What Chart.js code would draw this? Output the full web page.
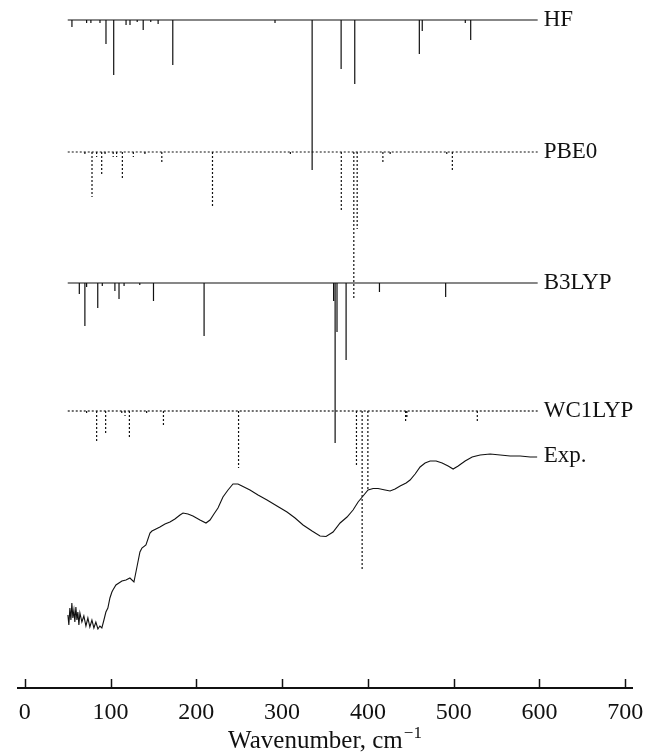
<!DOCTYPE html>
<html>
<head>
<meta charset="utf-8">
<script src="https://cdn.jsdelivr.net/npm/chart.js@4/dist/chart.umd.min.js"></script>
<style>
  html, body { margin: 0; padding: 0; background: #fff; }
  #c { display: block; }
</style>
</head>
<body>
<canvas id="c" width="654" height="756"></canvas>
<script>
// ---- data (wavenumber, cm^-1 ; stick depth in plot units) ----
const xTicks = [0, 100, 200, 300, 400, 500, 600, 700];

const hfFreq = [54.9, 72, 77, 87.6, 94.6, 103.6, 118, 122.6, 131, 138, 146.8, 155.4, 172.5, 291.7, 335, 368.8, 384.7, 460, 463.4, 513.6, 519.9];
const hfInt  = [7, 3, 3, 3, 24, 55, 5, 5, 2, 10, 2, 4, 45, 3, 150, 49, 64, 34, 11, 3, 20];

const pbe0Freq = [70, 78.3, 83.7, 89.6, 93.5, 103, 107, 113.7, 126.5, 140, 159.7, 218.8, 309.6, 369, 383.6, 387.5, 417.5, 426, 492, 498.5];
const pbe0Int  = [3, 45, 5, 24, 4, 5, 5, 27, 5, 3, 10, 55, 4, 59, 147, 77, 12, 2, 2, 20];

const b3lypFreq = [63.5, 70, 72, 85, 90.3, 105, 109.8, 115.7, 134, 150, 209, 360, 361.8, 364, 374.6, 413.5, 490.7];
const b3lypInt  = [11, 43, 4, 25, 3, 8, 16, 3, 2, 18, 53, 18, 160, 49, 77, 9, 14];

const wc1Freq = [72, 83.7, 94.2, 113, 116.8, 121.9, 142, 161.6, 249.2, 386.7, 393.3, 400, 444, 445.5, 527.6];
const wc1Int  = [2, 31, 23, 4, 5, 26, 3, 14, 57, 56, 160, 78, 12, 6, 12];

const expX = [50.2, 51.3, 52.5, 53.7, 54.8, 56.0, 57.2, 58.3, 59.5, 60.7, 61.8, 63.0, 64.2, 66.5, 68.8, 71.2, 73.5, 75.8, 78.2, 80.5, 82.8, 85.2, 87.5, 89.8, 92.2, 94.5, 96.8, 99.2, 101.5, 102.7, 106.2, 109.7, 113.2, 117.9, 122.5, 127.2, 130.7, 134.2, 136.5, 141.2, 145.9, 148.2, 152.9, 157.5, 163.4, 169.2, 175.0, 180.9, 184.4, 190.2, 196.0, 204.2, 211.2, 215.9, 220.5, 225.2, 231.0, 236.9, 242.7, 248.5, 253.2, 262.5, 271.9, 282.4, 294.0, 305.7, 315.1, 324.4, 334.9, 344.2, 351.2, 359.4, 367.6, 375.7, 382.7, 388.6, 394.4, 400.2, 406.1, 411.9, 420.1, 425.9, 431.7, 437.6, 444.6, 449.2, 455.1, 460.9, 466.7, 472.6, 479.6, 486.6, 493.6, 499.4, 505.3, 513.4, 521.6, 530.9, 542.6, 554.3, 565.9, 577.6, 589.3, 597.4];
const expY = [73, 63, 80, 68, 85, 70, 78, 66, 81, 68, 76, 63, 75, 66, 72, 62, 70, 61, 68, 60, 66, 59, 62, 60, 68, 76, 80, 90, 96, 98, 103, 105, 107, 108, 110, 106, 121, 136, 140, 143, 155, 157, 159, 161, 164, 166, 169, 173, 175, 174, 172, 168, 165, 168, 174, 180, 191, 198, 204, 204, 202, 198, 193, 188, 182, 176, 170, 163, 157, 152, 151.5, 156, 165, 171, 178, 186, 192, 198, 199.5, 199.5, 198, 197, 199, 202, 205, 208, 214, 221, 225, 227, 227, 225, 222, 219, 222, 227, 231, 233, 234, 233, 232, 232, 231, 231];

const seriesNames = ['HF', 'PBE0', 'B3LYP', 'WC1LYP', 'Exp.'];
const axisTitle = 'Wavenumber, cm';
const axisTitleSup = '\u22121';

// ---- layout constants ----
const BASE = { HF: 668, PBE0: 536, B3LYP: 405, WC1LYP: 277 };
const LINE_START = 50, LINE_END = 598;
const LABEL_X = 605;
const LABEL_Y = [668, 536, 405, 277, 232];

function baseline(base) {
  return [{ x: LINE_START, y: base }, { x: LINE_END, y: base }];
}
function sticks(base, freqs, ints) {
  const pts = [];
  freqs.forEach((f, i) => {
    pts.push({ x: f, y: base });
    pts.push({ x: f, y: base - ints[i] });
    pts.push({ x: f, y: null });
  });
  return pts;
}

const solid = { borderColor: '#111', borderWidth: 1.2, pointRadius: 0, fill: false, tension: 0, spanGaps: false };
const dashed = Object.assign({}, solid, { borderDash: [2, 2] });

const datasets = [
  Object.assign({ data: baseline(BASE.HF) }, solid),
  Object.assign({ data: sticks(BASE.HF, hfFreq, hfInt) }, solid),
  Object.assign({ data: baseline(BASE.PBE0) }, dashed),
  Object.assign({ data: sticks(BASE.PBE0, pbe0Freq, pbe0Int) }, dashed),
  Object.assign({ data: baseline(BASE.B3LYP) }, solid),
  Object.assign({ data: sticks(BASE.B3LYP, b3lypFreq, b3lypInt) }, solid),
  Object.assign({ data: baseline(BASE.WC1LYP) }, dashed),
  Object.assign({ data: sticks(BASE.WC1LYP, wc1Freq, wc1Int) }, dashed),
  Object.assign({ data: expX.map((x, i) => ({ x: x, y: expY[i] })) }, solid, { borderWidth: 1.1 })
];

const FONT = "'Liberation Serif', 'Times New Roman', serif";

const decor = {
  id: 'decor',
  afterDraw(chart) {
    const ctx = chart.ctx;
    const xs = chart.scales.x, ys = chart.scales.y;
    ctx.save();
    // inward tick marks
    ctx.strokeStyle = '#111';
    ctx.lineWidth = 1.5;
    const yb = chart.chartArea.bottom;
    xs.ticks.forEach(t => {
      const px = Math.round(xs.getPixelForValue(t.value)) + 0.5;
      ctx.beginPath();
      ctx.moveTo(px, yb);
      ctx.lineTo(px, yb - 9);
      ctx.stroke();
    });
    // series labels
    ctx.fillStyle = '#111';
    ctx.font = '23px ' + FONT;
    ctx.textAlign = 'left';
    ctx.textBaseline = 'middle';
    seriesNames.forEach((n, i) => {
      ctx.fillText(n, xs.getPixelForValue(LABEL_X), ys.getPixelForValue(LABEL_Y[i]));
    });
    // axis title with superscript
    const mainFont = '25px ' + FONT, supFont = '17px ' + FONT;
    ctx.font = mainFont;
    const w1 = ctx.measureText(axisTitle).width;
    ctx.font = supFont;
    const w2 = ctx.measureText(axisTitleSup).width;
    const cx = (xs.left + xs.right) / 2;
    const x0 = cx - (w1 + w2 + 1) / 2;
    const by = 748;
    ctx.textBaseline = 'alphabetic';
    ctx.font = mainFont;
    ctx.fillText(axisTitle, x0, by);
    ctx.font = supFont;
    ctx.fillText(axisTitleSup, x0 + w1 + 1, by - 10);
    ctx.restore();
  }
};

new Chart(document.getElementById('c'), {
  type: 'line',
  data: { datasets: datasets },
  options: {
    responsive: false,
    animation: false,
    events: [],
    layout: { padding: { left: 18, right: 22, top: 10, bottom: 0 } },
    plugins: { legend: { display: false }, tooltip: { enabled: false } },
    scales: {
      x: {
        type: 'linear',
        min: -8,
        max: 708,
        afterBuildTicks: s => { s.ticks = xTicks.map(v => ({ value: v })); },
        afterFit: s => { s.height = 68; },
        border: { display: true, color: '#111', width: 2 },
        grid: { display: true, drawOnChartArea: false, drawTicks: false },
        ticks: { color: '#111', font: { family: FONT, size: 24 }, padding: 10, maxRotation: 0, autoSkip: false },
        title: { display: false }
      },
      y: { type: 'linear', min: 0, max: 678, display: false }
    }
  },
  plugins: [decor]
});
</script>
</body>
</html>
